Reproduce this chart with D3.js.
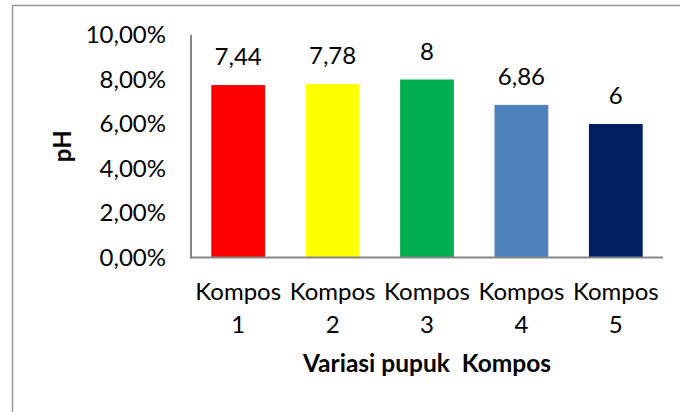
<!DOCTYPE html>
<html><head><meta charset="utf-8">
<script src="https://cdn.jsdelivr.net/npm/d3@7"></script>
<style>body{margin:0;background:#fff}svg{display:block}text{font-family:Lato,"Open Sans",sans-serif;white-space:pre}</style>
</head><body>
<svg id="c" width="680" height="412"></svg>
<script>
const categories = [["Kompos","1"],["Kompos","2"],["Kompos","3"],["Kompos","4"],["Kompos","5"]];
const values = [7.75, 7.8, 8.0, 6.86, 6.0];
const valueLabels = ["7,44","7,78","8","6,86","6"];
const colors = ["#FF0000","#FFFF00","#00B050","#4F81BD","#002060"];
const yTicks = [0,2,4,6,8,10];
const yTitle = "pH";
const xTitle = "Variasi pupuk  Kompos";

(function(){
const svg = d3.select("#c");
svg.append("rect").attr("x",12.5).attr("y",5.5).attr("width",680).attr("height",420)
  .attr("fill","none").attr("stroke","#999").attr("stroke-width",1.5);

const pl=191, pr=663, pt=35, pb=257.5;
const x = d3.scaleBand().domain(d3.range(values.length)).range([pl,pr]).paddingInner(0.43).paddingOuter(0.215);
const y = d3.scaleLinear().domain([0,10]).range([pb,pt]);

const yAxis = d3.axisLeft(y).tickValues(yTicks).tickSize(0).tickPadding(25)
  .tickFormat(d=>d.toFixed(2).replace(".",",")+"%");
const gy = svg.append("g").attr("transform",`translate(${pl},0)`).call(yAxis);
gy.select(".domain").remove();
gy.selectAll("text").attr("font-size",24).attr("fill","#000").attr("font-family","Lato");

svg.selectAll("rect.bar").data(values).join("rect").attr("class","bar")
  .attr("x",(d,i)=>x(i)).attr("width",x.bandwidth())
  .attr("y",d=>y(d)).attr("height",d=>pb-y(d))
  .attr("fill",(d,i)=>colors[i]);

svg.append("line").attr("x1",pl).attr("x2",pl).attr("y1",pt).attr("y2",pb+1).attr("stroke","#868686").attr("stroke-width",2);
svg.append("line").attr("x1",pl-1).attr("x2",pr).attr("y1",pb).attr("y2",pb).attr("stroke","#868686").attr("stroke-width",2);

svg.selectAll("text.vl").data(values).join("text").attr("class","vl")
  .attr("x",(d,i)=>x(i)+x.bandwidth()/2).attr("y",d=>y(d)-20)
  .attr("text-anchor","middle").attr("font-size",24).attr("fill","#000")
  .text((d,i)=>valueLabels[i]);

categories.forEach((c,i)=>{
  const t = svg.append("text").attr("text-anchor","middle").attr("font-size",24).attr("fill","#000");
  c.forEach((line,j)=>t.append("tspan").attr("x",x(i)+x.bandwidth()/2).attr("y",300+j*33).text(line));
});

svg.append("text").attr("x",(pl+pr)/2).attr("y",372).attr("text-anchor","middle")
  .attr("font-size",24.5).attr("font-weight","bold").attr("fill","#000").text(xTitle);
svg.append("text").attr("transform",`translate(71,${(pt+pb)/2}) rotate(-90)`).attr("text-anchor","middle")
  .attr("font-size",24).attr("font-weight","bold").attr("fill","#000").text(yTitle);
})();
</script>
</body></html>
